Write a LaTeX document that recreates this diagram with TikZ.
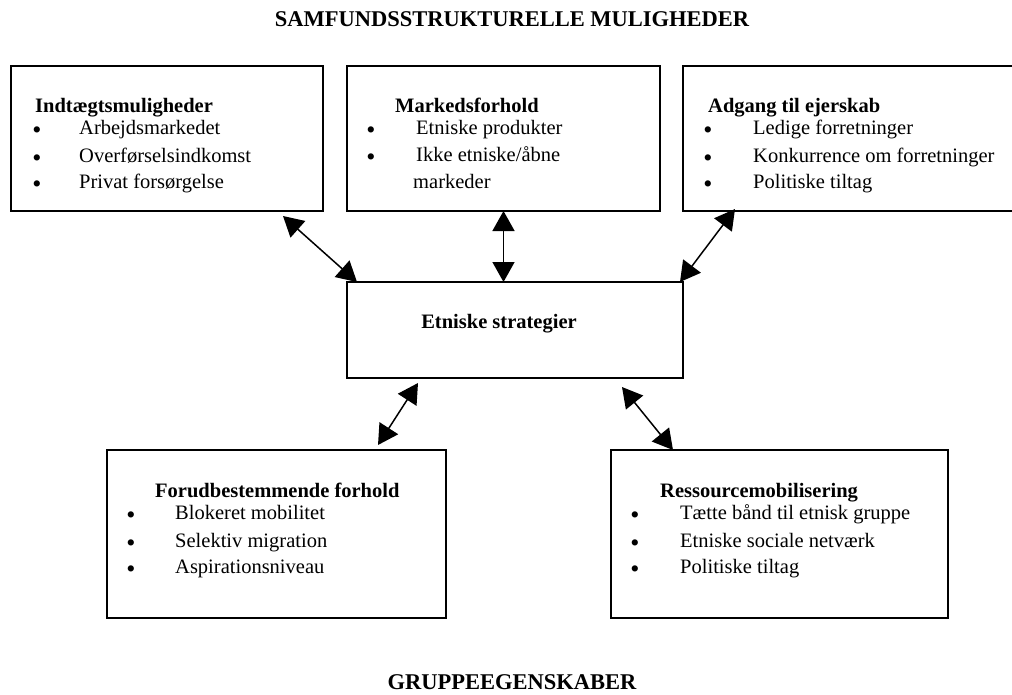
\documentclass[tikz,border=0pt]{standalone}
\usepackage{fontspec}
\setmainfont{Liberation Serif}
\usetikzlibrary{arrows.meta,calc}
\begin{document}
\begin{tikzpicture}[x=1pt,y=-1pt,
  box/.style={draw, line width=1.2pt, inner sep=0pt, outer sep=0pt},
  hd/.style={anchor=base west, inner sep=0pt, font=\fontsize{20.5}{24}\selectfont\bfseries},
  itm/.style={anchor=base west, inner sep=0pt, font=\fontsize{20.5}{24}\selectfont},
  bul/.style={anchor=base, inner sep=0pt, yshift=-4.5pt, font=\fontsize{26}{28}\selectfont},
  ttl/.style={anchor=base, inner sep=0pt, font=\fontsize{22.5}{26}\selectfont\bfseries},
  conn/.style={line width=1.5pt, {Triangle[length=20pt,width=22pt]}-{Triangle[length=20pt,width=22pt]}}]
\useasboundingbox (0,0) rectangle (1012,694);
\fill[white] (0,0) rectangle (1012,694);

\node[ttl] (t1) at (512,26) {SAMFUNDSSTRUKTURELLE MULIGHEDER};
\node[ttl] (t2) at (512,689) {GRUPPEEGENSKABER};

% boxes
\node[box, minimum width=312pt, minimum height=145pt] (b1) at (167,138.5) {};
\node[box, minimum width=313pt, minimum height=145pt] (b2) at (503.5,138.5) {};
\node[box, minimum width=335pt, minimum height=145pt] (b3) at (850.5,138.5) {};
\node[box, minimum width=336pt, minimum height=96pt] (es) at (515,330) {};
\node[box, minimum width=339pt, minimum height=168pt] (b4) at (276.5,534) {};
\node[box, minimum width=337pt, minimum height=168pt] (b5) at (779.5,534) {};

% box 1
\node[hd] (b1h) at (35,112) {Indtægtsmuligheder};
\node[bul] (b1d1) at (37,134) {•};
\node[bul] (b1d2) at (37,162) {•};
\node[bul] (b1d3) at (37,188) {•};
\node[itm] (b1i1) at (79,134) {Arbejdsmarkedet};
\node[itm] (b1i2) at (79,162) {Overførselsindkomst};
\node[itm] (b1i3) at (79,188) {Privat forsørgelse};

% box 2
\node[hd] (b2h) at (395,112) {Markedsforhold};
\node[bul] (b2d1) at (371,134) {•};
\node[bul] (b2d2) at (371,161) {•};
\node[itm] (b2i1) at (416,134) {Etniske produkter};
\node[itm] (b2i2) at (416,161) {Ikke etniske/åbne};
\node[itm] (b2i3) at (413,188) {markeder};

% box 3
\node[hd] (b3h) at (708,112) {Adgang til ejerskab};
\node[bul] (b3d1) at (708,134) {•};
\node[bul] (b3d2) at (708,162) {•};
\node[bul] (b3d3) at (708,188) {•};
\node[itm] (b3i1) at (753,134) {Ledige forretninger};
\node[itm] (b3i2) at (753,162) {Konkurrence om forretninger};
\node[itm] (b3i3) at (753,188) {Politiske tiltag};

% central
\node[anchor=base, inner sep=0pt, font=\fontsize{20.5}{24}\selectfont\bfseries] (esl) at (499,328) {Etniske strategier};

% box 4
\node[hd] (b4h) at (155,497) {Forudbestemmende forhold};
\node[bul] (b4d1) at (131,519) {•};
\node[bul] (b4d2) at (131,547) {•};
\node[bul] (b4d3) at (131,573) {•};
\node[itm] (b4i1) at (175,519) {Blokeret mobilitet};
\node[itm] (b4i2) at (175,547) {Selektiv migration};
\node[itm] (b4i3) at (175,573) {Aspirationsniveau};

% box 5
\node[hd] (b5h) at (660,497) {Ressourcemobilisering};
\node[bul] (b5d1) at (635,519) {•};
\node[bul] (b5d2) at (635,547) {•};
\node[bul] (b5d3) at (635,573) {•};
\node[itm] (b5i1) at (680,519) {Tætte bånd til etnisk gruppe};
\node[itm] (b5i2) at (680,547) {Etniske sociale netværk};
\node[itm] (b5i3) at (680,573) {Politiske tiltag};

% connectors
\draw[conn] ($(b1.south east)+(-40,5)$) -- ($(es.north west)+(10,0)$);
\draw[conn] (b2.south) -- (b2.south |- es.north);
\draw[conn] ($(b3.south west)+(52,-2)$) -- ($(es.north east)+(-3,0)$);
\draw[conn] ($(es.south west)+(71,5)$) -- ($(b4.north west)+(271,-5)$);
\draw[conn] ($(es.south west)+(275,9)$) -- ($(b5.north west)+(62,0)$);
\end{tikzpicture}
\end{document}
